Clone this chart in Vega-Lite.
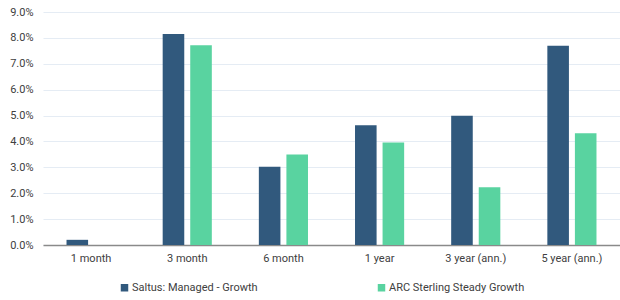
{
  "$schema": "https://vega.github.io/schema/vega-lite/v6.json",
  "width": 577,
  "height": 233,
  "autosize": {"type": "none"},
  "padding": {"left": 43, "top": 12, "right": 0, "bottom": 55},
  "background": "white",
  "config": {
    "view": {"stroke": null},
    "font": "Roboto"
  },
  "data": {
    "values": [
      {"period": "1 month", "series": "Saltus: Managed - Growth", "value": 0.002},
      {"period": "1 month", "series": "ARC Sterling Steady Growth", "value": 0.0},
      {"period": "3 month", "series": "Saltus: Managed - Growth", "value": 0.0815},
      {"period": "3 month", "series": "ARC Sterling Steady Growth", "value": 0.0772},
      {"period": "6 month", "series": "Saltus: Managed - Growth", "value": 0.0302},
      {"period": "6 month", "series": "ARC Sterling Steady Growth", "value": 0.035},
      {"period": "1 year", "series": "Saltus: Managed - Growth", "value": 0.0463},
      {"period": "1 year", "series": "ARC Sterling Steady Growth", "value": 0.0396},
      {"period": "3 year (ann.)", "series": "Saltus: Managed - Growth", "value": 0.0499},
      {"period": "3 year (ann.)", "series": "ARC Sterling Steady Growth", "value": 0.0223},
      {"period": "5 year (ann.)", "series": "Saltus: Managed - Growth", "value": 0.077},
      {"period": "5 year (ann.)", "series": "ARC Sterling Steady Growth", "value": 0.0432}
    ]
  },
  "mark": {"type": "bar"},
  "encoding": {
    "x": {
      "field": "period",
      "type": "nominal",
      "sort": ["1 month", "3 month", "6 month", "1 year", "3 year (ann.)", "5 year (ann.)"],
      "scale": {"paddingInner": 0.489, "paddingOuter": 0.2445},
      "axis": {
        "title": null,
        "labelAngle": 0,
        "labelFont": "Roboto",
        "labelFontSize": 11,
        "labelColor": "#404040",
        "labelPadding": 7,
        "ticks": false,
        "domainColor": "#8a8a8a",
        "domainWidth": 1.5,
        "grid": false
      }
    },
    "xOffset": {
      "field": "series",
      "type": "nominal",
      "sort": ["Saltus: Managed - Growth", "ARC Sterling Steady Growth"],
      "scale": {"paddingInner": 0.217, "paddingOuter": 0}
    },
    "y": {
      "field": "value",
      "type": "quantitative",
      "scale": {"domain": [0, 0.09], "nice": false},
      "axis": {
        "title": null,
        "format": ".1%",
        "values": [0, 0.01, 0.02, 0.03, 0.04, 0.05, 0.06, 0.07, 0.08, 0.09],
        "labelFont": "Roboto",
        "labelFontSize": 11,
        "labelColor": "#404040",
        "labelPadding": 10,
        "ticks": false,
        "domain": false,
        "gridColor": "#e5ecf4",
        "gridWidth": 1.2
      }
    },
    "color": {
      "field": "series",
      "type": "nominal",
      "sort": ["Saltus: Managed - Growth", "ARC Sterling Steady Growth"],
      "scale": {"range": ["#31597D", "#59D3A0"]},
      "legend": {
        "title": null,
        "orient": "none",
        "legendX": 76,
        "legendY": 270,
        "direction": "horizontal",
        "symbolType": "square",
        "symbolSize": 56,
        "symbolStrokeWidth": 0,
        "labelFont": "Roboto",
        "labelFontSize": 11,
        "labelColor": "#404040",
        "labelOffset": 2,
        "columnPadding": 118
      }
    }
  }
}
